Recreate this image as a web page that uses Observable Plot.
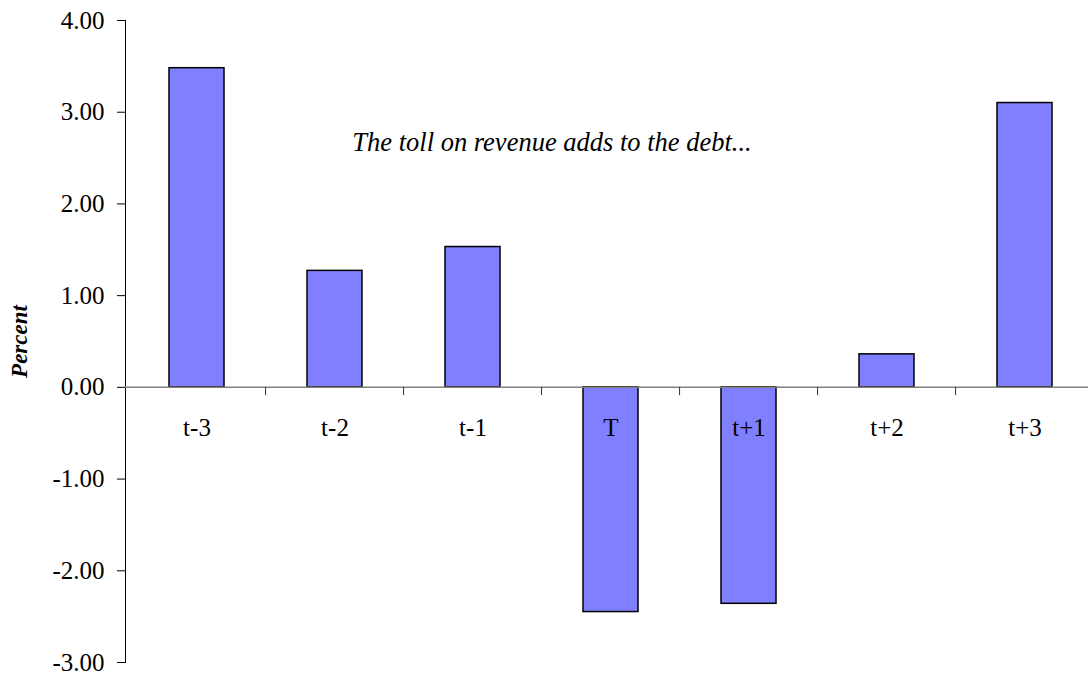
<!DOCTYPE html>
<html>
<head>
<meta charset="utf-8">
<script src="https://cdn.jsdelivr.net/npm/d3@7"></script>
<script src="https://cdn.jsdelivr.net/npm/@observablehq/plot@0.6"></script>
<style>
  html, body { margin: 0; padding: 0; background: white; overflow: hidden; }
</style>
</head>
<body>
<div id="chart"></div>
<script>
const categories = ["t-3", "t-2", "t-1", "T", "t+1", "t+2", "t+3"];
const values = [3.48, 1.27, 1.53, -2.45, -2.36, 0.36, 3.10];
const yTicks = [-3, -2, -1, 0, 1, 2, 3, 4];
const annotation = "The toll on revenue adds to the debt...";
const yLabel = "Percent";

const data = categories.map((c, i) => ({cat: c, value: values[i]}));

const serif = "'Liberation Serif', 'Times New Roman', serif";
const W = 1088, H = 677, ML = 125, MR = -9;
const step = (W - MR - ML) / categories.length;

const chart = Plot.plot({
  width: W,
  height: H,
  marginLeft: ML,
  marginRight: MR,
  marginTop: 20,
  marginBottom: 15,
  style: {fontFamily: serif, fontSize: "25px", color: "black", background: "white", overflow: "hidden"},
  x: {domain: categories, paddingInner: 0.6, paddingOuter: 0.3, axis: null},
  y: {domain: [-3, 4], axis: null},
  marks: [
    Plot.axisY({ticks: yTicks, tickSize: 8, tickFormat: () => "", label: null, stroke: "black"}),
    Plot.text(yTicks, {y: d => d, frameAnchor: "left", dx: -21, textAnchor: "end", text: d => d.toFixed(2), fontFamily: serif, fontSize: 25}),
    Plot.frame({anchor: "left", stroke: "black"}),
    Plot.barY(data, {x: "cat", y: "value", fill: "#8080FF", stroke: "black", strokeWidth: 1.5}),
    Plot.ruleY([0], {stroke: "#808080", strokeWidth: 1.5}),
    Plot.ruleX(categories.slice(1), {x: d => d, y1: 0, y2: -0.09, dx: -step / 2, stroke: "#333"}),
    Plot.text(categories, {x: d => d, y: 0, dy: 41, text: d => d, fontFamily: serif, fontSize: 25}),
    Plot.text([annotation], {x: () => "T", y: 2.67, dx: -59, text: d => d, fontFamily: serif, fontStyle: "italic", fontSize: 26.5}),
    Plot.text([yLabel], {frameAnchor: "left", textAnchor: "middle", rotate: -90, dx: -106, text: d => d, fontFamily: serif, fontWeight: "bold", fontStyle: "italic", fontSize: 23})
  ]
});
document.getElementById("chart").appendChild(chart);
</script>
</body>
</html>
